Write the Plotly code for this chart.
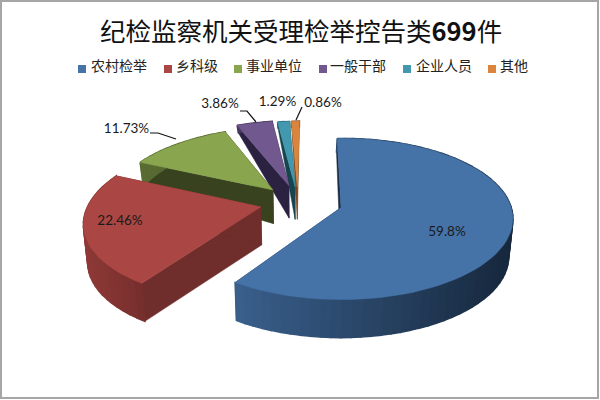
import numpy as np
import plotly.graph_objects as go

title = "纪检监察机关受理检举控告类<b>699</b>件"
categories = ["农村检举", "乡科级", "事业单位", "一般干部", "企业人员", "其他"]
shares = [59.8, 22.46, 11.73, 3.86, 1.29, 0.86]
share_labels = ["59.8%", "22.46%", "11.73%", "3.86%", "1.29%", "0.86%"]

top_colors = ["#4572a7", "#aa4643", "#89a54e", "#71588f", "#4198af", "#db843d"]
wall_colors = ["#1b2d45", "#6f2d2c", "#38421f", "#2b2140", "#17454f", "#7a4a20"]
rim_left = ["#3a608c", "#8f3a38", "#5a6d33", "#4a3a60", "#2a6373", "#8f5628"]
rim_right = ["#17283d", "#752f2d", "#4a5a2a", "#3d304f", "#225360", "#7a4a20"]
pulls = [0.26, 0.22, 0.22, 0.22, 0.2, 0.2]
radii = [0.98, 1, 0.94, 1, 1, 1]

# projection of the tilted pie onto the picture
OX, OY = 298, 202
AX, BY = 172, 79
PERSP = 0.143
SHEAR = 7
ROT = -2


def project(px, py):
    d = 1 + PERSP * py
    return OX + AX * px / d + SHEAR * py, OY - BY * py / d


def drop(px, py):
    # bottom edge of the slice, the far side looks thinner
    sx, sy = project(px, py)
    h = np.clip(38 - 27 * np.maximum(py, 0), 0, None)
    return OX + (sx - OX) * 0.98, sy + h


def hex_mix(a, b, t):
    ca = [int(a[i:i + 2], 16) for i in (1, 3, 5)]
    cb = [int(b[i:i + 2], 16) for i in (1, 3, 5)]
    return "rgb(%d,%d,%d)" % tuple(x + (y - x) * t for x, y in zip(ca, cb))


def poly(xs, ys, color, width=0.5):
    return go.Scatter(x=list(xs), y=list(ys), mode="lines", fill="toself", fillcolor=color,
                      line=dict(color=color, width=width), hoverinfo="skip", showlegend=False)


fig = go.Figure()

edges = np.concatenate([[0], np.cumsum(shares)]) * 3.6 + ROT
for i in reversed(range(len(shares))):
    a0, a1 = np.radians(edges[i]), np.radians(edges[i + 1])
    mid = (a0 + a1) / 2
    cx, cy = pulls[i] * np.sin(mid), pulls[i] * np.cos(mid)
    t = np.linspace(a0, a1, max(int(np.degrees(a1 - a0) / 3), 2) + 1)
    px, py = cx + radii[i] * np.sin(t), cy + radii[i] * np.cos(t)
    sx, sy = project(px, py)
    bx, by = drop(px, py)
    ax, ay = project(cx, cy)
    abx, aby = drop(cx, cy)

    # flat cut walls
    for k in (0, -1):
        fig.add_trace(poly([ax, sx[k], bx[k], abx, ax], [ay, sy[k], by[k], aby, ay], wall_colors[i]))

    # outer wall in thin strips so it can shade across
    lo, hi = sx.min(), sx.max()
    for k in range(len(t) - 1):
        f = ((sx[k] + sx[k + 1]) / 2 - lo) / max(hi - lo, 1)
        fig.add_trace(poly([sx[k], sx[k + 1], bx[k + 1], bx[k], sx[k]],
                           [sy[k], sy[k + 1], by[k + 1], by[k], sy[k]],
                           hex_mix(rim_left[i], rim_right[i], f), width=1.5))

    fig.add_trace(poly([ax, *sx, ax], [ay, *sy, ay], top_colors[i]))

# leader lines
leaders = [([150, 158, 176], [133, 133, 139]),
           ([240, 247, 256], [111, 111, 122]),
           ([302, 296], [107, 120])]
for lx, ly in leaders:
    fig.add_trace(go.Scatter(x=lx, y=ly, mode="lines", line=dict(color="#111111", width=1.2),
                             hoverinfo="skip", showlegend=False))

# percent labels
label_x = [447, 120, 126.5, 220, 277.5, 323]
label_y = [233, 222, 130, 105, 103, 104]
fig.add_trace(go.Scatter(x=label_x, y=label_y, text=share_labels, mode="text",
                         textfont=dict(family="Lato", size=13.5, color="#1a1a1a"),
                         hoverinfo="skip", showlegend=False))

# legend row
legend_x = [82, 168, 238, 323, 407, 492]
legend_text_x = [91, 176, 246, 330, 416, 500]
fig.add_trace(go.Scatter(x=legend_x, y=[69] * 6, mode="markers",
                         marker=dict(symbol="square", size=8, color=top_colors),
                         hoverinfo="skip", showlegend=False))
fig.add_trace(go.Scatter(x=legend_text_x, y=[67] * 6, text=categories, mode="text",
                         textposition="middle right",
                         textfont=dict(family="Noto Sans CJK SC", size=14, color="#222222"),
                         hoverinfo="skip", showlegend=False))

fig.add_annotation(x=301, y=29, text=title, showarrow=False, xref="x", yref="y",
                   font=dict(family="Noto Sans CJK SC", size=25.5, color="#111111"))

fig.add_shape(type="rect", x0=1, y0=1, x1=598, y1=398, line=dict(color="#a6a6a6", width=2))

fig.update_layout(width=600, height=400, margin=dict(l=0, r=0, t=0, b=0),
                  paper_bgcolor="white", plot_bgcolor="white", showlegend=False,
                  xaxis=dict(range=[0, 600], visible=False, fixedrange=True),
                  yaxis=dict(range=[400, 0], visible=False, fixedrange=True))

fig.write_html("out.html", config=dict(displayModeBar=False),
               post_script="document.body.style.margin='0';document.body.style.overflow='hidden';")
